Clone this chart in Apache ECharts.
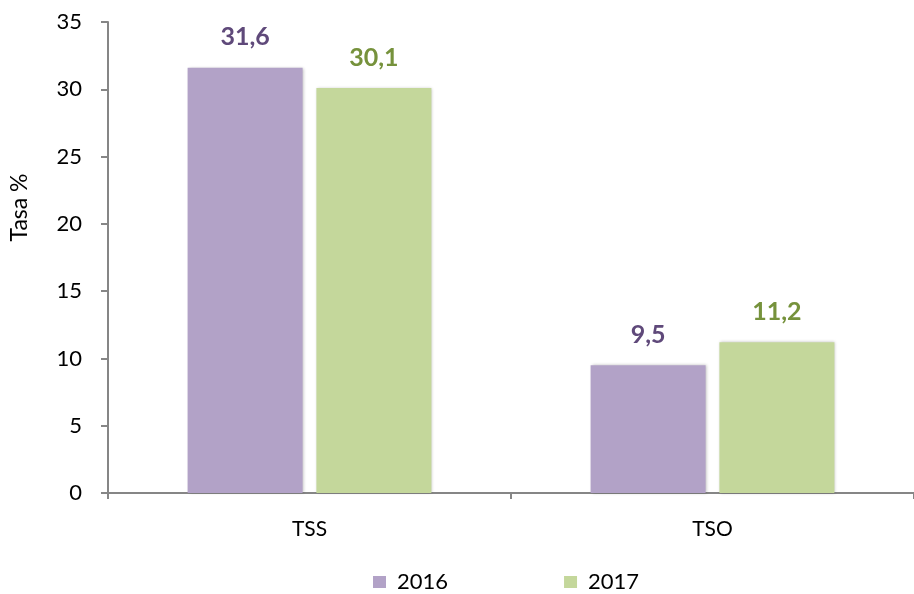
<!DOCTYPE html>
<html><head><meta charset="utf-8">
<script src="https://cdn.jsdelivr.net/npm/echarts@6/dist/echarts.min.js"></script>
<style>html,body{margin:0;padding:0;background:#fff}#c{width:914px;height:594px}</style>
</head><body><div id="c"></div>
<script>
const categories = ['TSS', 'TSO'];
const seriesNames = ['2016', '2017'];
const values2016 = [31.6, 9.5];
const values2017 = [30.1, 11.2];
const yTicks = [0, 5, 10, 15, 20, 25, 30, 35];

const FONT = 'Lato, "Open Sans", sans-serif';
const fmt = v => String(v).replace('.', ',');
const chart = echarts.init(document.getElementById('c'));
const axisGray = '#868686';
function mk(name, data, color, labelColor) {
  return {
    name, type: 'bar', data, barWidth: 115, barGap: '12%',
    itemStyle: { color, shadowBlur: 3, shadowColor: 'rgba(0,0,0,0.25)', shadowOffsetX: 1, shadowOffsetY: 0 },
    label: { show: true, position: 'top', distance: 18, color: labelColor, fontFamily: FONT,
      fontWeight: 'bold', fontSize: 25, formatter: p => fmt(p.value) }
  };
}
chart.setOption({
  animation: false,
  grid: { left: 104, width: 820, top: 22, bottom: 101 },
  legend: {
    top: 570, left: 373, padding: 0, itemWidth: 13, itemHeight: 12, itemGap: 116,
    icon: 'rect', textStyle: { fontFamily: FONT, fontSize: 22, color: '#000', lineHeight: 24, padding: [0, 0, 0, 6] },
    data: seriesNames
  },
  xAxis: {
    type: 'category', data: categories,
    axisLine: { lineStyle: { color: axisGray, width: 2 } },
    axisTick: { show: true, length: 6, lineStyle: { color: axisGray, width: 2 } },
    axisLabel: { color: '#000', fontFamily: FONT, fontSize: 21, margin: 26 }
  },
  yAxis: {
    type: 'value', min: yTicks[0], max: yTicks[yTicks.length - 1], interval: 5,
    name: 'Tasa %', nameLocation: 'middle', nameGap: 77,
    nameTextStyle: { fontFamily: FONT, fontSize: 23, color: '#000', padding: [0, 0, 0, 100] },
    axisLine: { show: true, lineStyle: { color: axisGray, width: 2 } },
    axisTick: { show: true, length: 7, lineStyle: { color: axisGray, width: 2 } },
    axisLabel: { color: '#000', fontFamily: FONT, fontSize: 22, margin: 26 },
    splitLine: { show: false }
  },
  series: [
    mk(seriesNames[0], values2016, '#b2a2c7', '#5f497a'),
    mk(seriesNames[1], values2017, '#c4d79b', '#76923c')
  ]
});
</script></body></html>
